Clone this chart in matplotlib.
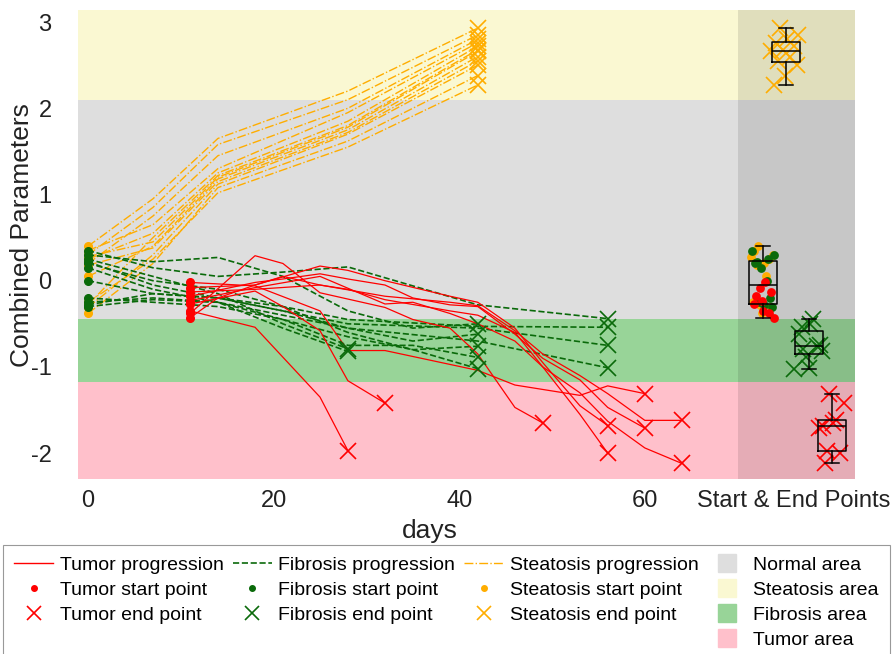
import matplotlib.pyplot as plt
from matplotlib.lines import Line2D
import numpy as np

plt.rcParams['font.family'] = ['Liberation Sans', 'DejaVu Sans']
plt.rcParams['axes.unicode_minus'] = False

# tumor trajectories (start at day 11)
tumor_days = [
    [11, 18, 25, 28],
    [11, 18, 21, 25, 28, 32],
    [11, 18, 21, 25, 32, 35, 39, 42, 46, 49],
    [11, 18, 25, 28, 32, 39, 42, 46, 49, 53, 56],
    [11, 14, 18, 21, 25, 28, 32, 39, 42, 46, 49, 53, 56],
    [11, 18, 25, 28, 32, 42, 46, 53, 56, 60],
    [11, 18, 21, 25, 28, 32, 35, 39, 42, 46, 49, 53, 56, 60],
    [11, 18, 25, 32, 39, 42, 46, 49, 53, 56, 60, 64],
    [11, 18, 25, 32, 35, 39, 42, 46, 49, 53, 56, 60, 64],
]
tumor_vals = [
    [-0.35, -0.54, -1.35, -1.97],
    [-0.27, -0.12, -0.30, -0.58, -1.16, -1.42],
    [-0.38, 0.29, 0.20, -0.14, -0.31, -0.45, -0.55, -0.85, -1.47, -1.65],
    [-0.08, -0.05, 0.17, 0.12, 0.00, -0.18, -0.25, -0.55, -0.95, -1.45, -1.68],
    [-0.43, -0.20, -0.05, 0.05, -0.05, -0.10, -0.22, -0.35, -0.40, -0.60, -1.00, -1.55, -2.00],
    [-0.02, -0.06, -0.35, -0.81, -0.81, -1.04, -1.21, -1.33, -1.22, -1.31],
    [-0.18, -0.02, 0.02, 0.08, 0.02, -0.05, -0.20, -0.28, -0.30, -0.62, -0.90, -1.15, -1.47, -1.71],
    [-0.13, -0.10, -0.05, -0.18, -0.25, -0.29, -0.58, -0.85, -1.10, -1.31, -1.62, -1.62],
    [-0.23, -0.08, 0.05, -0.27, -0.25, -0.38, -0.50, -0.70, -1.00, -1.30, -1.63, -1.94, -2.12],
]

# fibrosis trajectories
fibrosis_days = [
    [0, 7, 14, 21, 28],
    [0, 7, 14, 21, 28],
    [0, 7, 14, 21, 28, 35, 42],
    [0, 7, 14, 21, 28, 35, 42],
    [0, 7, 14, 21, 28, 35, 42],
    [0, 7, 14, 21, 28, 35, 42],
    [0, 7, 14, 21, 28, 35, 42],
    [0, 7, 14, 21, 28, 42, 56],
    [0, 7, 14, 21, 28, 42, 56],
    [0, 7, 14, 21, 28, 42, 56],
    [0, 7, 14, 21, 28, 42, 56],
]
fibrosis_vals = [
    [0.25, 0.05, -0.15, -0.50, -0.79],
    [-0.25, -0.20, -0.25, -0.55, -0.82],
    [0.30, 0.22, 0.27, 0.05, -0.35, -0.55, -0.50],
    [-0.28, -0.15, -0.20, -0.35, -0.55, -0.70, -0.62],
    [0.20, 0.00, -0.10, -0.30, -0.60, -0.80, -0.76],
    [-0.20, -0.25, -0.30, -0.45, -0.75, -0.75, -0.89],
    [0.15, -0.10, -0.25, -0.45, -0.65, -0.80, -1.02],
    [0.35, 0.15, 0.05, 0.10, 0.16, -0.28, -0.44],
    [0.00, -0.15, -0.20, -0.30, -0.45, -0.53, -0.54],
    [0.22, -0.05, -0.20, -0.35, -0.50, -0.55, -0.75],
    [-0.30, -0.22, -0.25, -0.40, -0.55, -0.70, -1.01],
]

# steatosis trajectories
steatosis_days = [0, 7, 14, 28, 42]
steatosis_vals = [
    [0.40, 0.95, 1.65, 2.20, 2.93],
    [0.30, 0.85, 1.58, 2.10, 2.85],
    [0.20, 0.75, 1.45, 2.00, 2.80],
    [0.35, 0.65, 1.30, 1.95, 2.76],
    [0.25, 0.55, 1.25, 1.85, 2.72],
    [-0.28, 0.50, 1.22, 1.80, 2.68],
    [0.28, 0.45, 1.20, 1.78, 2.66],
    [0.05, 0.40, 1.18, 1.75, 2.60],
    [0.18, 0.38, 1.15, 1.72, 2.55],
    [-0.31, 0.30, 1.12, 1.70, 2.50],
    [-0.38, 0.20, 1.08, 1.62, 2.38],
    [-0.25, 0.25, 1.02, 1.55, 2.27],
]

# area limits
tumor_band = (-2.3, -1.17)
fibrosis_band = (-1.17, -0.44)
normal_band = (-0.44, 2.1)
steatosis_band = (2.1, 3.14)

c_tumor = '#ff0000'
c_fib = '#0a6a0a'
c_steat = '#ffad00'
c_normal_area = '#dedede'
c_steat_area = '#faf8d2'
c_fib_area = '#98d498'
c_tumor_area = '#ffc0cb'

fig = plt.figure(figsize=(8.93, 6.54), dpi=100)
ax = fig.add_axes([0.0873, 0.2676, 0.8702, 0.7171])

ax.axhspan(*tumor_band, color=c_tumor_area, lw=0, zorder=0)
ax.axhspan(*fibrosis_band, color=c_fib_area, lw=0, zorder=0)
ax.axhspan(*normal_band, color=c_normal_area, lw=0, zorder=0)
ax.axhspan(*steatosis_band, color=c_steat_area, lw=0, zorder=0)
ax.axvspan(70, 82.65, color='black', alpha=0.1, lw=0, zorder=0.5)

# progression lines
for v in steatosis_vals:
    ax.plot(steatosis_days, v, color=c_steat, ls='-.', lw=1.0, zorder=2)
for d, v in zip(fibrosis_days, fibrosis_vals):
    ax.plot(d, v, color=c_fib, ls='--', lw=1.2, zorder=2)
for d, v in zip(tumor_days, tumor_vals):
    ax.plot(d, v, color=c_tumor, ls='-', lw=0.9, zorder=2)

# start points
ax.plot([steatosis_days[0]] * len(steatosis_vals), [v[0] for v in steatosis_vals],
        'o', color=c_steat, ms=5.5, ls='none', zorder=3)
ax.plot([d[0] for d in fibrosis_days], [v[0] for v in fibrosis_vals],
        'o', color=c_fib, ms=5.5, ls='none', zorder=3)
ax.plot([d[0] for d in tumor_days], [v[0] for v in tumor_vals],
        'o', color=c_tumor, ms=5.5, ls='none', zorder=3)

# end points
ax.plot([steatosis_days[-1]] * len(steatosis_vals), [v[-1] for v in steatosis_vals],
        'x', color=c_steat, ms=11, mew=1.2, ls='none', zorder=3)
ax.plot([d[-1] for d in fibrosis_days], [v[-1] for v in fibrosis_vals],
        'x', color=c_fib, ms=11, mew=1.2, ls='none', zorder=3)
ax.plot([d[-1] for d in tumor_days], [v[-1] for v in tumor_vals],
        'x', color=c_tumor, ms=11, mew=1.2, ls='none', zorder=3)


def spread(n, width):
    return ((np.arange(n) * 0.618 + 0.3) % 1 - 0.5) * 2 * width


# summary of start & end points
start_s = [v[0] for v in steatosis_vals]
start_f = [v[0] for v in fibrosis_vals]
start_t = [v[0] for v in tumor_vals]
end_s = [v[-1] for v in steatosis_vals]
end_f = [v[-1] for v in fibrosis_vals]
end_t = [v[-1] for v in tumor_vals]
all_start = start_s + start_f + start_t
box_pos = [72.7, 75.2, 77.7, 80.2]

j = spread(len(all_start), 1.3)
ns, nf = len(start_s), len(start_f)
ax.scatter(box_pos[0] + j[:ns], start_s, s=40, color=c_steat, zorder=3, lw=0)
ax.scatter(box_pos[0] + j[ns:ns + nf], start_f, s=40, color=c_fib, zorder=3, lw=0)
ax.scatter(box_pos[0] + j[ns + nf:], start_t, s=40, color=c_tumor, zorder=3, lw=0)
ax.plot(box_pos[1] + spread(len(end_s), 1.6), end_s, 'x', color=c_steat, ms=12, mew=1.2,
        ls='none', zorder=3)
ax.plot(box_pos[2] + spread(len(end_f), 1.6), end_f, 'x', color=c_fib, ms=12, mew=1.2,
        ls='none', zorder=3)
ax.plot(box_pos[3] + spread(len(end_t), 1.5), end_t, 'x', color=c_tumor, ms=12, mew=1.2,
        ls='none', zorder=3)

ax.boxplot([all_start, end_s, end_f, end_t], positions=box_pos, widths=3.0,
           whis=(0, 100), showfliers=False, manage_ticks=False, capwidths=1.5,
           boxprops=dict(color='black', lw=1.1), whiskerprops=dict(color='black', lw=1.1),
           capprops=dict(color='black', lw=1.1), medianprops=dict(color='black', lw=1.1),
           zorder=4)

ax.set_xlim(-1.08, 82.65)
ax.set_ylim(-2.3, 3.14)
ax.set_xticks([0, 20, 40, 60, 76])
ax.set_xticklabels(['0', '20', '40', '60', 'Start & End Points'])
ax.set_yticks([-2, -1, 0, 1, 2, 3])
ax.tick_params(axis='both', length=0, labelsize=17, colors='#222222')
ax.tick_params(axis='y', pad=19)
ax.tick_params(axis='x', pad=8)
for s in ax.spines.values():
    s.set_visible(False)

ax.set_ylabel('Combined Parameters', fontsize=19, color='#222222')
ax.yaxis.set_label_coords(-0.057, 0.52)
ax.set_xlabel('days', fontsize=19, color='#222222')
ax.xaxis.set_label_coords(0.453, -0.085)

# legend
blank = Line2D([], [], ls='none')
handles = [
    Line2D([], [], color=c_tumor, lw=1),
    Line2D([], [], marker='o', color=c_tumor, ms=4, ls='none'),
    Line2D([], [], marker='x', color=c_tumor, ms=10, mew=1.2, ls='none'),
    blank,
    Line2D([], [], color=c_fib, lw=1.2, ls='--'),
    Line2D([], [], marker='o', color=c_fib, ms=4, ls='none'),
    Line2D([], [], marker='x', color=c_fib, ms=10, mew=1.2, ls='none'),
    blank,
    Line2D([], [], color=c_steat, lw=1, ls='-.'),
    Line2D([], [], marker='o', color=c_steat, ms=4, ls='none'),
    Line2D([], [], marker='x', color=c_steat, ms=10, mew=1.2, ls='none'),
    blank,
    Line2D([], [], marker='s', color=c_normal_area, ms=13, ls='none'),
    Line2D([], [], marker='s', color=c_steat_area, ms=13, ls='none'),
    Line2D([], [], marker='s', color=c_fib_area, ms=13, ls='none'),
    Line2D([], [], marker='s', color=c_tumor_area, ms=13, ls='none'),
]
labels = ['Tumor progression', 'Tumor start point', 'Tumor end point', '',
          'Fibrosis progression', 'Fibrosis start point', 'Fibrosis end point', '',
          'Steatosis progression', 'Steatosis start point', 'Steatosis end point', '',
          'Normal area', 'Steatosis area', 'Fibrosis area', 'Tumor area']
leg = fig.legend(handles, labels, ncol=4, loc='upper left',
                 bbox_to_anchor=(0.003, 0.003, 0.994, 0.164), mode='expand',
                 fontsize=14, handlelength=2.0, handletextpad=0.35, labelspacing=0.38,
                 borderpad=0.6, borderaxespad=0, fancybox=False, framealpha=1,
                 edgecolor='#999999')
leg.get_frame().set_linewidth(0.8)

fig.savefig('out.png', dpi=100)
